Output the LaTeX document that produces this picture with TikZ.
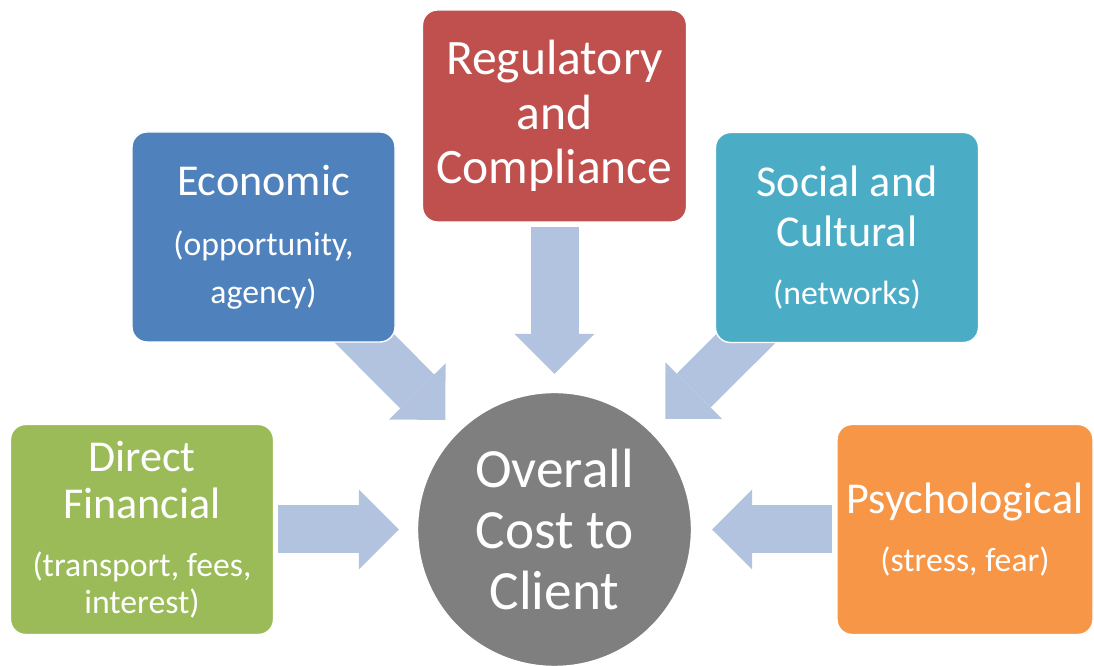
\documentclass[tikz,border=0pt]{standalone}
\usepackage{fontspec}
\setmainfont{Carlito}
\usetikzlibrary{positioning, arrows.meta, backgrounds}

\definecolor{econblue}{HTML}{4F81BD}
\definecolor{regred}{HTML}{C0504D}
\definecolor{socialaqua}{HTML}{4BACC6}
\definecolor{directgreen}{HTML}{9BBB59}
\definecolor{psychorange}{HTML}{F79646}
\definecolor{costgray}{HTML}{7F7F7F}
\definecolor{flowblue}{RGB}{178,195,223}

\newcommand{\subtxt}{\fontsize{19.2}{\the\baselineskip}\selectfont}

\begin{document}
\begin{tikzpicture}[
    box/.style={rectangle, rounded corners=3mm, draw=white, line width=0.8pt, text=white,
                minimum width=5.26cm, minimum height=4.2cm, align=center,
                font=\fontsize{25.1}{27.2}\selectfont},
    hub/.style={circle, draw=white, line width=0.8pt, fill=costgray, text=white,
                minimum size=5.48cm, align=center, font=\fontsize{31.5}{34.6}\selectfont},
    flow/.style={draw=flowblue, line width=9.6mm,
                 -{Triangle[length=8mm, width=16mm, line width=0pt]}},
    % Colores por tipo de coste
    economic/.style={fill=econblue},
    regulatory/.style={fill=regred},
    social/.style={fill=socialaqua},
    direct/.style={fill=directgreen},
    psycho/.style={fill=psychorange}
]
\useasboundingbox (0,0) rectangle (21.88,13.32);

% --- Nodo central ---
\node[hub] (cost) at (11.09,2.73) {Overall\\ Cost to\\ Client};

% --- Cajas alrededor ---
\node[box, economic] (econ) at (5.27,8.58) {Economic\\[6.8pt] \subtxt (opportunity,\\ \subtxt agency)};
\node[box, regulatory, minimum width=5.28cm, minimum height=4.24cm,
      font=\fontsize{28.2}{30.9}\selectfont] (reg) at (11.09,11.0) {Regulatory\\ and\\ Compliance};
\node[box, social, font=\fontsize{25.1}{28.3}\selectfont] (soc) at (16.94,8.57) {Social and\\ Cultural\\[4.6pt] \subtxt (networks)};
\node[box, direct] (fin) at (2.84,2.73) {Direct\\[-0.6pt] Financial\\[5.7pt] \subtxt (transport, fees,\\[-6.2pt] \subtxt interest)};
\node[box, psycho, minimum width=5.12cm] (psy) at (19.30,2.73) {Psychological\\[5.7pt] \subtxt (stress, fear)};

% --- Flechas hacia el centro ---
\begin{scope}[on background layer]
\draw[flow, shorten <=0.08cm, shorten >=0.36cm] (reg.south) -- (cost.north);
\draw[flow, shorten <=0.07cm, shorten >=0.36cm] (fin.east) -- (cost.west);
\draw[flow, shorten <=0.08cm, shorten >=0.40cm] (psy.west) -- (cost.east);
\draw[flow, shorten >=0.34cm] (econ.center) -- (cost);
\draw[flow, shorten >=0.38cm] (soc.center) -- (cost);
\end{scope}
\end{tikzpicture}
\end{document}
